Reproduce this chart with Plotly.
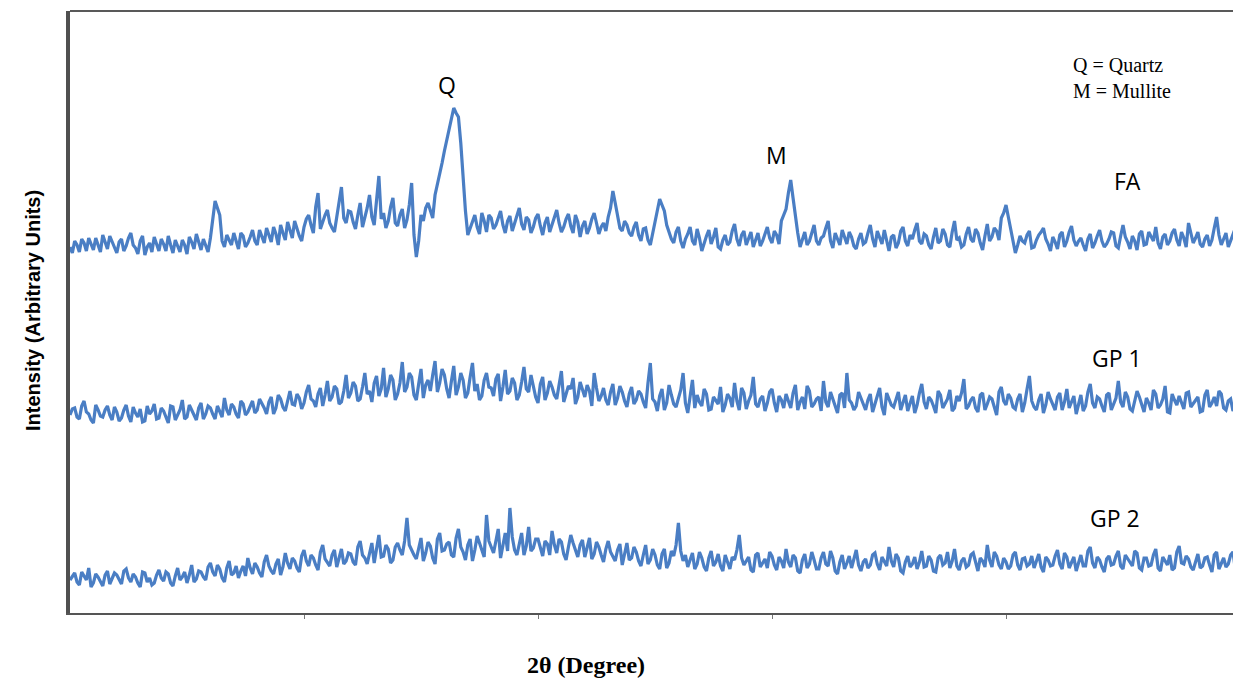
import plotly.graph_objects as go

# 2-theta grid: 10 to 60 degrees, step 0.1 (501 points)
two_theta = [round(10 + 0.1 * i, 1) for i in range(501)]

# intensities read at 10.0, 10.2, 10.4 ... 60.0 (even steps)
fa_even = [
    366, 372, 361, 370, 375, 363, 369, 378, 364, 371,
    360, 374, 367, 380, 365, 372, 358, 370, 376, 362,
    369, 377, 360, 366, 373, 359, 371, 379, 363, 368,
    375, 412, 398, 366, 372, 380, 364, 377, 370, 383,
    368, 376, 385, 371, 379, 388, 373, 382, 392, 377,
    386, 398, 380, 420, 392, 403, 385, 396, 426, 390,
    401, 384, 410, 395, 418, 388, 437, 400, 392, 415,
    387, 404, 393, 430, 356, 398, 405, 402, 418, 440,
    462, 482, 505, 496, 430, 378, 392, 386, 400, 381,
    395, 388, 402, 380, 397, 390, 405, 383, 393, 386,
    399, 378, 396, 388, 403, 381, 394, 387, 398, 376,
    392, 385, 400, 379, 390, 396, 422, 398, 382, 388,
    377, 391, 372, 385, 368, 392, 414, 402, 380, 370,
    386, 365, 379, 372, 384, 362, 377, 369, 385, 364,
    378, 371, 389, 367, 382, 374, 366, 380, 372, 386,
    370, 378, 392, 404, 433, 395, 366, 381, 372, 388,
    368, 377, 392, 365, 374, 383, 369, 376, 364, 380,
    371, 388, 366, 375, 383, 362, 378, 370, 386, 367,
    374, 390, 369, 377, 364, 385, 372, 379, 366, 392,
    375, 368, 386, 371, 380, 363, 389, 376, 382, 395,
    408, 384, 360, 377, 370, 382, 366, 378, 385, 369,
    376, 364, 381, 372, 387, 367, 375, 362, 379, 370,
    383, 366, 374, 380, 365, 388, 371, 377, 363, 382,
    369, 376, 386, 364, 379, 372, 384, 367, 375, 390,
    370, 381, 366, 378, 373, 396, 368, 380, 372, 385, 370,
]
# intensities read at 10.1, 10.3 ... 59.9 (odd steps)
fa_odd = [
    360, 368, 374, 362, 368, 375, 361, 370, 377, 365,
    371, 362, 375, 368, 359, 377, 366, 361, 369, 374,
    362, 368, 373, 361, 368, 376, 364, 370, 374, 361,
    392, 405, 372, 378, 368, 371, 380, 366, 376, 372,
    383, 370, 377, 386, 368, 380, 391, 375, 383, 372,
    394, 388, 406, 384, 398, 390, 381, 410, 395, 402,
    391, 398, 386, 405, 396, 412, 394, 385, 406, 390,
    398, 385, 408, 378, 372, 392, 410, 395, 428, 450,
    472, 495, 500, 470, 402, 385, 398, 379, 392, 398,
    384, 396, 388, 392, 382, 399, 389, 396, 380, 395,
    387, 390, 381, 395, 390, 386, 399, 380, 391, 387,
    379, 394, 390, 386, 382, 405, 410, 385, 392, 380,
    386, 378, 384, 373, 380, 403, 408, 388, 374, 381,
    372, 374, 386, 368, 375, 370, 383, 376, 366, 373,
    368, 382, 374, 378, 368, 381, 373, 367, 379, 375,
    382, 369, 398, 420, 415, 380, 374, 368, 380, 372,
    375, 385, 372, 380, 368, 376, 381, 367, 374, 369,
    380, 374, 382, 369, 371, 376, 365, 382, 372, 378,
    383, 372, 379, 368, 376, 370, 384, 368, 381, 373,
    366, 379, 374, 384, 370, 377, 372, 385, 373, 400,
    396, 370, 368, 372, 378, 365, 373, 381, 374, 362,
    371, 378, 366, 381, 373, 372, 368, 374, 365, 377,
    372, 369, 381, 367, 377, 376, 364, 372, 379, 368,
    381, 372, 370, 376, 368, 380, 373, 381, 366, 378,
    375, 369, 374, 367, 385, 378, 374, 366, 379, 376,
]

gp1_even = [
    198, 205, 194, 212, 199, 190, 203, 196, 207, 193,
    201, 195, 208, 191, 200, 204, 192, 199, 209, 195,
    202, 190, 206, 198, 213, 196, 203, 193, 210, 199,
    205, 194, 201, 215, 198, 206, 195, 209, 201, 212,
    203, 210, 199, 216, 205, 214, 202, 222, 208, 215,
    210, 228, 212, 219, 207, 232, 216, 224, 211, 238,
    220, 227, 214, 240, 222, 230, 217, 245, 224, 233,
    219, 251, 226, 236, 213, 244, 228, 222, 252, 230,
    238, 215, 247, 226, 233, 220, 250, 229, 217, 240,
    225, 234, 212, 243, 222, 230, 218, 246, 221, 228,
    210, 236, 220, 226, 214, 242, 218, 224, 209, 231,
    216, 222, 240, 212, 225, 208, 229, 215, 221, 206,
    226, 213, 219, 205, 250, 211, 217, 203, 228, 209,
    214, 240, 200, 233, 218, 207, 219, 204, 212, 226,
    208, 215, 230, 203, 220, 212, 236, 206, 217, 210,
    224, 201, 213, 219, 205, 228, 211, 204, 222, 209,
    216, 232, 206, 214, 200, 220, 240, 210, 207, 215,
    203, 219, 209, 225, 198, 214, 206, 221, 211, 202,
    217, 208, 229, 204, 213, 200, 218, 210, 223, 205,
    212, 234, 207, 216, 201, 220, 209, 214, 198, 226,
    208, 215, 204, 219, 210, 237, 206, 213, 200, 221,
    209, 216, 203, 224, 211, 199, 218, 207, 229, 205,
    214, 201, 220, 210, 232, 206, 216, 202, 222, 209,
    215, 203, 219, 208, 227, 200, 213, 217, 204, 221,
    209, 216, 202, 223, 210, 207, 219, 203, 214, 208, 212,
]
gp1_odd = [
    204, 196, 207, 201, 193, 208, 197, 203, 198, 206,
    192, 203, 197, 206, 196, 191, 207, 202, 194, 205,
    196, 207, 193, 203, 194, 208, 197, 205, 194, 207,
    199, 207, 196, 203, 209, 199, 212, 198, 207, 200,
    214, 205, 211, 199, 218, 206, 213, 209, 219, 204,
    221, 214, 206, 225, 218, 212, 227, 209, 222, 215,
    231, 212, 226, 219, 211, 237, 224, 216, 238, 213,
    230, 221, 240, 218, 229, 215, 233, 238, 221, 244,
    224, 232, 218, 240, 215, 236, 222, 213, 233, 226,
    217, 239, 226, 219, 235, 213, 231, 224, 238, 216,
    229, 213, 232, 218, 230, 211, 227, 235, 216, 222,
    228, 207, 225, 217, 213, 221, 208, 227, 212, 219,
    209, 222, 211, 230, 214, 202, 224, 210, 218, 206,
    223, 210, 219, 205, 211, 224, 203, 216, 209, 201,
    219, 206, 212, 225, 204, 218, 209, 214, 202, 221,
    210, 217, 205, 212, 220, 203, 216, 227, 206, 214,
    202, 211, 221, 207, 218, 205, 213, 203, 221, 208,
    213, 201, 217, 206, 220, 208, 215, 203, 218, 209,
    200, 220, 211, 216, 207, 222, 205, 214, 202, 217,
    220, 204, 213, 205, 218, 203, 216, 207, 221, 212,
    219, 206, 214, 201, 224, 212, 203, 219, 208, 214,
    203, 220, 211, 205, 217, 208, 202, 221, 210, 216,
    207, 218, 203, 215, 211, 221, 204, 213, 216, 201,
    210, 223, 205, 214, 201, 219, 208, 211, 220, 206,
    213, 201, 218, 206, 216, 222, 205, 212, 202, 217,
]

gp2_even = [
    33, 40, 28, 37, 45, 30, 36, 27, 42, 34,
    38, 29, 44, 31, 36, 26, 40, 35, 30, 43,
    32, 39, 27, 45, 36, 30, 48, 34, 41, 33,
    50, 37, 44, 31, 52, 40, 35, 47, 55, 39,
    46, 36, 58, 42, 49, 38, 60, 44, 52, 41,
    63, 47, 55, 43, 68, 50, 58, 46, 64, 52,
    59, 48, 72, 55, 61, 50, 78, 57, 64, 53,
    70, 58, 95, 62, 54, 75, 60, 67, 49, 80,
    63, 71, 56, 84, 61, 68, 52, 77, 64, 98,
    66, 72, 55, 80, 105, 63, 70, 58, 86, 65,
    74, 57, 69, 82, 60, 71, 53, 78, 62, 68,
    56, 75, 59, 66, 51, 72, 57, 63, 48, 70,
    55, 61, 47, 68, 53, 58, 44, 64, 50, 57,
    90, 52, 46, 60, 49, 55, 42, 62, 51, 47,
    58, 44, 53, 78, 48, 56, 41, 60, 50, 45,
    57, 43, 52, 64, 46, 55, 40, 59, 49, 53,
    44, 61, 47, 55, 39, 58, 50, 45, 63, 42,
    54, 48, 60, 43, 52, 66, 46, 55, 40, 57,
    49, 44, 62, 47, 53, 41, 58, 50, 45, 64,
    43, 55, 48, 60, 42, 52, 68, 46, 57, 44,
    51, 47, 61, 43, 55, 49, 45, 59, 41, 53,
    48, 63, 44, 56, 50, 42, 58, 47, 66, 45,
    53, 41, 57, 49, 62, 44, 54, 47, 60, 43,
    55, 48, 64, 42, 52, 58, 45, 67, 49, 54,
    43, 59, 47, 56, 41, 61, 50, 46, 58, 44, 52,
]
gp2_odd = [
    37, 31, 41, 33, 26, 39, 32, 38, 29, 40,
    33, 42, 35, 39, 30, 41, 31, 28, 38, 35,
    41, 30, 37, 33, 41, 38, 31, 42, 36, 46,
    41, 48, 35, 45, 38, 47, 42, 37, 45, 50,
    40, 51, 47, 39, 54, 46, 50, 55, 45, 57,
    52, 58, 48, 61, 54, 47, 63, 55, 49, 60,
    51, 66, 58, 49, 70, 62, 56, 68, 50, 66,
    63, 72, 68, 58, 66, 52, 71, 55, 74, 62,
    69, 58, 75, 66, 53, 74, 63, 70, 56, 72,
    60, 84, 68, 62, 76, 58, 80, 67, 62, 74,
    64, 72, 58, 68, 74, 59, 66, 70, 56, 73,
    67, 54, 71, 58, 64, 61, 52, 69, 60, 53,
    66, 52, 58, 49, 64, 48, 59, 45, 62, 68,
    62, 58, 53, 44, 61, 46, 55, 47, 59, 42,
    51, 56, 63, 55, 52, 43, 58, 46, 54, 61,
    48, 56, 45, 51, 58, 42, 53, 45, 61, 44,
    55, 49, 62, 42, 51, 44, 57, 55, 48, 51,
    45, 58, 49, 56, 47, 52, 59, 42, 51, 46,
    56, 51, 46, 57, 42, 55, 48, 61, 52, 47,
    52, 46, 58, 50, 55, 46, 53, 61, 48, 55,
    44, 58, 48, 54, 47, 57, 52, 46, 56, 47,
    57, 49, 60, 45, 56, 51, 47, 62, 50, 56,
    46, 54, 48, 57, 47, 58, 50, 62, 45, 55,
    47, 58, 45, 56, 48, 43, 61, 50, 57, 46,
    52, 45, 55, 48, 58, 44, 55, 49, 61, 47,
]


def merge(even, odd):
    out = []
    for i, v in enumerate(even):
        out.append(v)
        if i < len(odd):
            out.append(odd[i])
    return out


series_names = ["FA", "GP 1", "GP 2"]
series_values = [merge(fa_even, fa_odd), merge(gp1_even, gp1_odd), merge(gp2_even, gp2_odd)]

peak_labels = ["Q", "M"]
peak_x = [26.11, 40.21]
peak_y = [528, 458]

name_x = [55.21, 54.74, 54.66]
name_y = [432, 255, 95]

key_text = "Q = Quartz<br>M = Mullite"

LINE_COLOR = "#4a7ec4"

# page body has an 8px margin; plot area in page coords: x 70..1241, y 11..613
OFF = 8
PLOT_L, PLOT_T, PLOT_W, PLOT_H = 70, 11, 1170, 602


def px(xp):
    return (xp - PLOT_L) / PLOT_W


def py(yp):
    return (PLOT_T + PLOT_H - yp) / PLOT_H


fig = go.Figure()
for name, vals in zip(series_names, series_values):
    fig.add_trace(go.Scatter(
        x=two_theta, y=vals, mode="lines", name=name,
        line=dict(color=LINE_COLOR, width=3.2), showlegend=False,
    ))

for lab, x, y in zip(peak_labels, peak_x, peak_y):
    fig.add_annotation(x=x, y=y, text=lab, showarrow=False,
                       font=dict(family="Open Sans, Noto Sans", size=23, color="black"))
for lab, x, y in zip(series_names, name_x, name_y):
    fig.add_annotation(x=x, y=y, text=lab, showarrow=False,
                       font=dict(family="Open Sans, Noto Sans", size=23, color="black"))

fig.update_layout(
    width=1241 - OFF, height=684 - OFF,
    margin=dict(l=PLOT_L - OFF, r=1, t=PLOT_T - OFF, b=71),
    paper_bgcolor="white", plot_bgcolor="white",
    showlegend=False,
)

fig.update_xaxes(
    range=[10, 60], showgrid=False, zeroline=False,
    showline=True, linecolor="#555555", linewidth=2,
    ticks="outside", ticklen=4, tickcolor="#777777", tickwidth=1,
    tickvals=[20, 30, 40, 50], showticklabels=False,
)
fig.update_yaxes(
    range=[0, 602], showgrid=False, zeroline=False,
    showline=True, linecolor="#505050", linewidth=4,
    ticks="", showticklabels=False,
)

# top and right frame lines
fig.add_shape(type="line", xref="paper", yref="paper", x0=0, x1=1, y0=1, y1=1,
              line=dict(color="#222222", width=1.5))
fig.add_shape(type="line", xref="paper", yref="paper", x0=1, x1=1, y0=0, y1=1,
              line=dict(color="#aaaaaa", width=1))

# key
fig.add_annotation(xref="paper", yref="paper", x=px(1071), y=py(78),
                   xanchor="left", yanchor="middle", align="left", showarrow=False,
                   text=key_text,
                   font=dict(family="Liberation Serif, Times New Roman", size=20, color="black"))

# axis titles
fig.add_annotation(xref="paper", yref="paper", x=px(586), y=py(665),
                   xanchor="center", yanchor="middle", showarrow=False,
                   text="<b>2θ (Degree)</b>",
                   font=dict(family="Liberation Serif, Times New Roman", size=24, color="black"))
fig.add_annotation(xref="paper", yref="paper", x=px(33), y=py(311),
                   xanchor="center", yanchor="middle", showarrow=False, textangle=-90,
                   text="<b>Intensity (Arbitrary Units)</b>",
                   font=dict(family="Liberation Sans Narrow, Liberation Sans", size=20, color="black"))

fig.write_html("out.html")
